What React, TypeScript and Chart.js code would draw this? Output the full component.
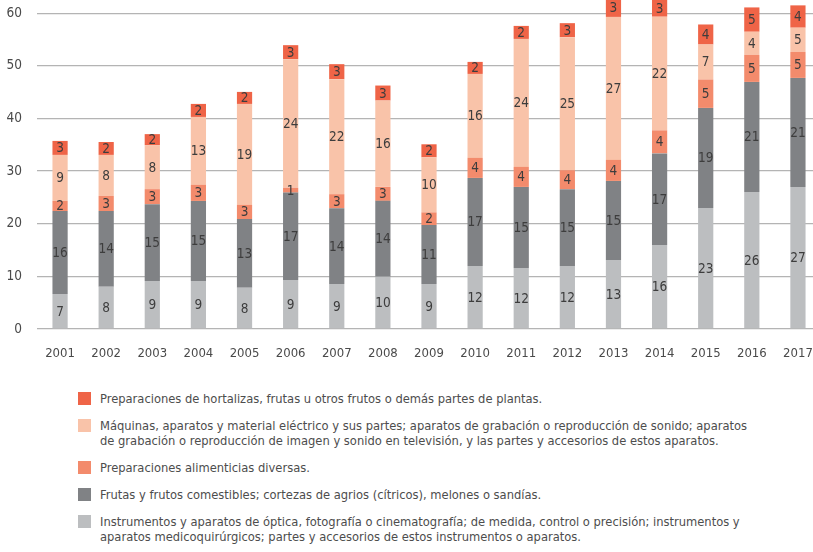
import React, { useEffect, useRef } from "react";
import { Chart, registerables } from "chart.js";

Chart.register(...registerables);

const years = [
  "2001", "2002", "2003", "2004", "2005", "2006", "2007", "2008", "2009",
  "2010", "2011", "2012", "2013", "2014", "2015", "2016", "2017",
];

// Stacked from the bottom up
const instrumentos = [6.65, 8.04, 9.12, 9.12, 7.85, 9.31, 8.55, 9.94, 8.55, 11.97, 11.59, 11.97, 13.11, 15.96, 23.0, 26.04, 26.99];
const frutas = [15.77, 14.38, 14.6, 15.21, 13.05, 16.6, 14.4, 14.4, 11.21, 16.73, 15.4, 14.6, 15.02, 17.4, 19.0, 20.9, 20.71];
const alimenticias = [1.91, 2.86, 2.85, 3.04, 2.67, 0.95, 2.66, 2.66, 2.4, 3.8, 3.8, 3.6, 3.99, 4.37, 5.4, 5.13, 4.94];
const maquinas = [8.74, 7.79, 8.36, 12.92, 19.19, 24.4, 21.85, 16.4, 10.46, 15.96, 24.32, 25.27, 27.17, 21.6, 6.65, 4.4, 4.6];
const hortalizas = [2.66, 2.45, 2.09, 2.47, 2.28, 2.66, 2.85, 2.85, 2.47, 2.28, 2.47, 2.66, 3.4, 3.3, 3.8, 4.62, 4.24];

const yTicks = [0, 10, 20, 30, 40, 50, 60];

const instrumentosLines = [
  "Instrumentos y aparatos de óptica, fotografía o cinematografía; de medida, control o precisión; instrumentos y",
  "aparatos medicoquirúrgicos; partes y accesorios de estos instrumentos o aparatos.",
];
const frutasLines = ["Frutas y frutos comestibles; cortezas de agrios (cítricos), melones o sandías."];
const alimenticiasLines = ["Preparaciones alimenticias diversas."];
const maquinasLines = [
  "Máquinas, aparatos y material eléctrico y sus partes; aparatos de grabación o reproducción de sonido; aparatos",
  "de grabación o reproducción de imagen y sonido en televisión, y las partes y accesorios de estos aparatos.",
];
const hortalizasLines = ["Preparaciones de hortalizas, frutas u otros frutos o demás partes de plantas."];

const FONT = "'Liberation Sans Narrow', 'DejaVu Sans Condensed', 'Arial Narrow', sans-serif";

const seriesDefs = [
  { data: instrumentos, lines: instrumentosLines, color: "#BCBEC0" },
  { data: frutas, lines: frutasLines, color: "#808285" },
  { data: alimenticias, lines: alimenticiasLines, color: "#F38B6C" },
  { data: maquinas, lines: maquinasLines, color: "#F9C3A9" },
  { data: hortalizas, lines: hortalizasLines, color: "#EF6447" },
];

const segmentLabels = {
  id: "segmentLabels",
  afterDatasetsDraw(chart: any) {
    const ctx = chart.ctx;
    ctx.save();
    ctx.font = `13.5px ${FONT}`;
    ctx.fillStyle = "#3d3d3d";
    ctx.textAlign = "center";
    ctx.textBaseline = "middle";
    chart.data.datasets.forEach((ds: any, i: number) => {
      const meta = chart.getDatasetMeta(i);
      meta.data.forEach((el: any, j: number) => {
        const v = ds.data[j];
        const p = el.getProps(["x", "y", "base"], true);
        ctx.fillText(String(Math.round(v)), p.x, (p.y + p.base) / 2 + 1);
      });
    });
    ctx.restore();
  },
};

function App() {
  const canvasRef = useRef<HTMLCanvasElement | null>(null);

  useEffect(() => {
    if (!canvasRef.current) return;
    const chart = new Chart(canvasRef.current, {
      type: "bar",
      data: {
        labels: years,
        datasets: seriesDefs.map((s) => ({
          label: s.lines.join(" "),
          data: s.data,
          backgroundColor: s.color,
          borderWidth: 0,
          barPercentage: 0.33,
          categoryPercentage: 1,
        })),
      },
      options: {
        responsive: false,
        animation: false,
        devicePixelRatio: 1,
        layout: { padding: 0 },
        plugins: {
          legend: { display: false },
          tooltip: { enabled: false },
        },
        scales: {
          x: {
            stacked: true,
            offset: true,
            grid: { display: false, drawTicks: false },
            border: { display: false },
            ticks: {
              padding: 17,
              color: "#4a4a4a",
              font: { family: FONT, size: 13 },
              maxRotation: 0,
              autoSkip: false,
            },
            afterFit: (s: any) => {
              s.height = 50;
              s.paddingLeft = 0;
              s.paddingRight = 0;
            },
          },
          y: {
            stacked: true,
            min: 0,
            max: 62.5,
            border: { display: false },
            grid: { color: "#B4B4B4", lineWidth: 1.3, drawTicks: false },
            ticks: {
              padding: 15,
              color: "#4a4a4a",
              font: { family: FONT, size: 13.5 },
            },
            afterBuildTicks: (s: any) => {
              s.ticks = yTicks.map((v) => ({ value: v }));
            },
            afterFit: (s: any) => {
              s.width = 37;
              s.paddingTop = 0;
              s.paddingBottom = 0;
            },
          },
        },
      },
      plugins: [segmentLabels],
    });
    return () => chart.destroy();
  }, []);

  const legendItems = [...seriesDefs].reverse();

  return (
    <div
      style={{
        position: "absolute",
        left: 0,
        top: 0,
        width: 813,
        height: 552,
        overflow: "hidden",
        background: "#ffffff",
      }}
    >
      <canvas
        ref={canvasRef}
        width={821}
        height={379}
        style={{ position: "absolute", left: 0, top: 0, width: 821, height: 379 }}
      />
      <div
        style={{
          position: "absolute",
          left: 78,
          top: 391,
          display: "flex",
          flexDirection: "column",
          gap: 12,
          fontFamily: FONT,
          fontSize: 12.8,
          lineHeight: "15px",
          color: "#4d4d4d",
        }}
      >
        {legendItems.map((s, i) => (
          <div key={i} style={{ display: "flex", alignItems: "flex-start" }}>
            <div
              style={{
                width: 13,
                height: 13,
                marginTop: 1,
                background: s.color,
                flex: "0 0 13px",
              }}
            />
            <div style={{ marginLeft: 9, whiteSpace: "nowrap" }}>
              {s.lines.map((l, k) => (
                <div key={k}>{l}</div>
              ))}
            </div>
          </div>
        ))}
      </div>
    </div>
  );
}

export default App;
